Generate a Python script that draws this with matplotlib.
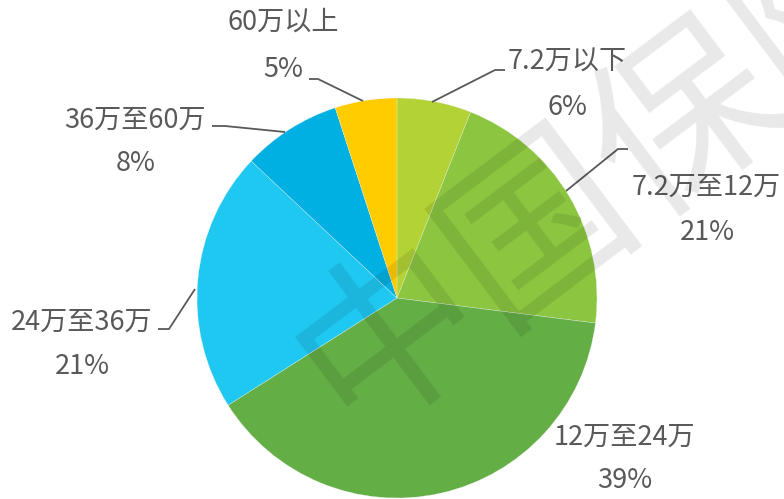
import matplotlib
matplotlib.use('Agg')
import matplotlib.pyplot as plt

plt.rcParams['font.family'] = ['Noto Sans CJK SC', 'DejaVu Sans']

# dados
faixas = ['7.2万以下', '7.2万至12万', '12万至24万', '24万至36万', '36万至60万', '60万以上']
percentuais = [6, 21, 39, 21, 8, 5]
cores = ['#b2d235', '#8cc540', '#64ae46', '#1fc8f1', '#00b0e3', '#ffcc00']

W, H = 784, 499
fig = plt.figure(figsize=(W / 100, H / 100), dpi=100)
ax = fig.add_axes([0, 0, 1, 1])

cx, cy, r = 397, H - 298, 200
ax.pie(percentuais, colors=cores, startangle=90, counterclock=False,
       center=(cx, cy), radius=r,
       wedgeprops=dict(edgecolor='#f4f4f4', linewidth=0.2))
ax.set_xlim(0, W)
ax.set_ylim(0, H)
ax.set_aspect('equal')
ax.axis('off')

cor_txt = '#595959'
fs = 19.5

# posições dos rótulos (pixels da imagem) e linhas guia
rotulos = [
    ((567, 62), (567, 107), [(432, 102), (495, 70), (505, 70)]),
    ((706, 187), (707, 232), [(566, 191), (618, 149), (628, 149)]),
    ((624, 437), (625, 480), None),
    ((82, 322), (82, 366), [(195, 289), (169, 329), (158, 329)]),
    ((135, 120), (136, 163), [(285, 132), (225, 126), (212, 126)]),
    ((283, 22), (283, 69), [(363, 101), (318, 79), (309, 79)]),
]

for nome, p, (pos_nome, pos_pct, guia) in zip(faixas, percentuais, rotulos):
    ax.text(pos_nome[0], H - pos_nome[1], nome, ha='center', va='center',
            fontsize=fs, color=cor_txt)
    ax.text(pos_pct[0], H - pos_pct[1], f'{p}%', ha='center', va='center',
            fontsize=fs, color=cor_txt)
    if guia:
        ax.plot([g[0] for g in guia], [H - g[1] for g in guia],
                color=cor_txt, lw=1.3, solid_capstyle='butt')

# marca d'água
ax.text(612, H - 172, '中国保险', fontsize=132, color=(0, 0, 0, 0.09),
        rotation=37, rotation_mode='anchor',
        ha='center', va='center', zorder=10)

fig.savefig('out.png', dpi=100)
